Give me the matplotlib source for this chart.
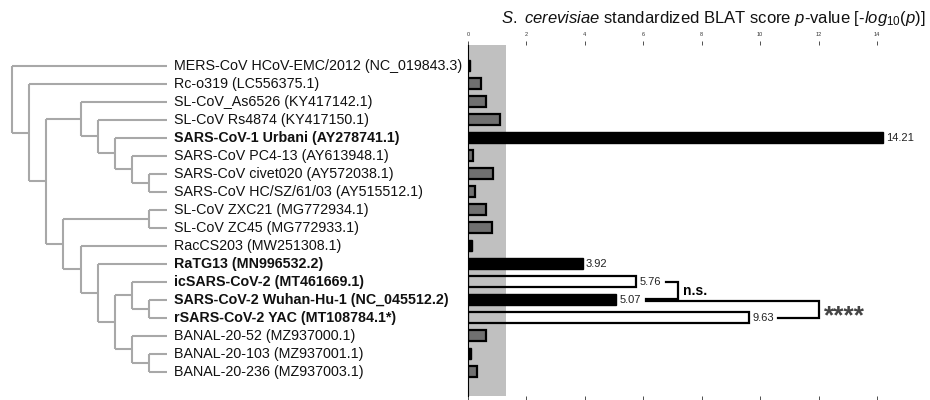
import matplotlib
matplotlib.use("Agg")
import matplotlib.pyplot as plt

plt.rcParams['font.family'] = ['Liberation Sans', 'DejaVu Sans']
plt.rcParams['mathtext.fontset'] = 'custom'
plt.rcParams['mathtext.rm'] = 'Liberation Sans'
plt.rcParams['mathtext.it'] = 'Liberation Sans:italic'
plt.rcParams['mathtext.bf'] = 'Liberation Sans:bold'

# ---------------- data ----------------
labels = [
    "MERS-CoV HCoV-EMC/2012 (NC_019843.3)",
    "Rc-o319 (LC556375.1)",
    "SL-CoV_As6526 (KY417142.1)",
    "SL-CoV Rs4874 (KY417150.1)",
    "SARS-CoV-1 Urbani (AY278741.1)",
    "SARS-CoV PC4-13 (AY613948.1)",
    "SARS-CoV civet020 (AY572038.1)",
    "SARS-CoV HC/SZ/61/03 (AY515512.1)",
    "SL-CoV ZXC21 (MG772934.1)",
    "SL-CoV ZC45 (MG772933.1)",
    "RacCS203 (MW251308.1)",
    "RaTG13 (MN996532.2)",
    "icSARS-CoV-2 (MT461669.1)",
    "SARS-CoV-2 Wuhan-Hu-1 (NC_045512.2)",
    "rSARS-CoV-2 YAC (MT108784.1*)",
    "BANAL-20-52 (MZ937000.1)",
    "BANAL-20-103 (MZ937001.1)",
    "BANAL-20-236 (MZ937003.1)",
]
values = [0.08, 0.43, 0.62, 1.10, 14.21, 0.18, 0.85, 0.24, 0.62, 0.81,
          0.13, 3.92, 5.76, 5.07, 9.63, 0.62, 0.09, 0.30]
bar_kind = ["black", "gray", "gray", "gray", "black", "gray", "gray", "gray", "gray", "gray",
            "black", "black", "open", "black", "open", "gray", "black", "gray"]
bold_rows = [4, 11, 12, 13, 14]
labelled_rows = [4, 11, 12, 13, 14]
# cladogram topology (leaf indices)
tree = (0, (1, ((2, (3, (4, (5, (6, 7))))),
                ((8, 9), (10, (11, ((12, (13, 14)), (15, (16, 17)))))))))
threshold = 1.3          # -log10(0.05)
xticks = [0, 2, 4, 6, 8, 10, 12, 14]
comparisons = [(12, 13, "n.s."), (13, 14, "****")]

# ---------------- layout ----------------
W, H = 930, 400
fig = plt.figure(figsize=(W / 100, H / 100), dpi=100)
top_px, bot_px, split_px, right_px = 45, 396, 468, 924
px_per_unit = 29.21
ylim = (len(labels) - 1 + 1.35, -1.14)

ax = fig.add_axes([split_px / W, 1 - bot_px / H, (right_px - split_px) / W, (bot_px - top_px) / H])
axt = fig.add_axes([0, 1 - bot_px / H, split_px / W, (bot_px - top_px) / H])

# ---------------- tree ----------------
tree_col = "#a8a8a8"
lev0, lev_step, nlev = 11.7, 17.22, 9


def layout(node):
    if isinstance(node, int):
        return nlev, float(node)
    kids = [layout(c) for c in node]
    lev = min(k[0] for k in kids) - 1
    y = (kids[0][1] + kids[-1][1]) / 2
    x = lev0 + lev * lev_step
    axt.plot([x, x], [kids[0][1], kids[-1][1]], color=tree_col, lw=1.5, solid_capstyle="butt")
    for (kl, ky) in kids:
        kx = lev0 + kl * lev_step
        axt.plot([x, kx], [ky, ky], color=tree_col, lw=1.5, solid_capstyle="butt")
    return lev, y


layout(tree)
for i, lab in enumerate(labels):
    axt.text(174, i, lab, va="center", ha="left", fontsize=10.3,
             fontweight="bold" if i in bold_rows else "normal", color="#111111")
axt.set_xlim(0, split_px)
axt.set_ylim(*ylim)
axt.axis("off")

# ---------------- bars ----------------
ax.axvspan(0, threshold, color="#c0c0c0", lw=0, zorder=0)
styles = {
    "black": dict(color="black", edgecolor="black", linewidth=1.0),
    "gray": dict(color="#707070", edgecolor="black", linewidth=1.6),
    "open": dict(color="none", edgecolor="black", linewidth=1.6),
}
for i, (v, k) in enumerate(zip(values, bar_kind)):
    ax.barh(i, v, height=0.6, zorder=2, **styles[k])
for i in labelled_rows:
    ax.text(values[i] + 0.12, i, f"{values[i]:.2f}", va="center", ha="left", fontsize=8, color="#222222")

# significance brackets
lw_b = 1.6
a, b, t = comparisons[0]
xr1 = 7.2
ax.plot([values[a] + 1.02, xr1, xr1, values[b] + 1.03], [a, a, b - 0.05, b - 0.05],
        color="black", lw=lw_b, solid_joinstyle="miter")
ax.text(xr1 + 0.17, (a + b) / 2, t, va="center", ha="left", fontsize=10, fontweight="bold")
a, b, t = comparisons[1]
xr2 = 12.02
ax.plot([values[a] + 1.03, xr2, xr2, values[b] + 0.99], [a + 0.07, a + 0.07, b, b],
        color="black", lw=lw_b, solid_joinstyle="miter")
ax.text(xr2 + 0.15, (a + b) / 2 + 0.42, t, va="center", ha="left", fontsize=19,
        fontweight="bold", color="#444444")

ax.set_xlim(0, (right_px - split_px) / px_per_unit)
ax.set_ylim(*ylim)
ax.set_xticks(xticks)
ax.set_xticklabels([str(x) for x in xticks])
ax.set_yticks([])
ax.xaxis.set_ticks_position("both")
ax.tick_params(axis="x", which="both", top=True, bottom=True, labeltop=True, labelbottom=False,
               direction="out", length=3, width=0.6, labelsize=4, pad=3, colors="#333333")
for s in ["top", "right", "bottom"]:
    ax.spines[s].set_visible(False)
ax.spines["left"].set_linewidth(0.8)

fig.text(925 / W, 1 - 19 / H,
         r"$\it{S.}$ $\it{cerevisiae}$ standardized BLAT score $\it{p}$-value [-$\it{log}_{10}$($\it{p}$)]",
         ha="right", va="center", fontsize=12, color="#111111")

fig.savefig("out.png", dpi=100)
